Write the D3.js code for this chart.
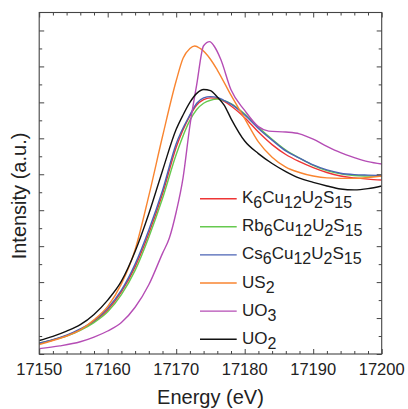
<!DOCTYPE html>
<html>
<head>
<meta charset="utf-8">
<script src="https://cdn.jsdelivr.net/npm/d3@7"></script>
<style>
  html, body { margin: 0; padding: 0; background: #fff; }
  svg { display: block; font-family: "Liberation Sans", Arial, sans-serif; }
</style>
</head>
<body>
<svg width="408" height="409"></svg>
<script>
// series: [energy (eV), normalized intensity]
var k6 = [[17150,0.058],[17152,0.078],[17154,0.102],[17156,0.136],[17158,0.18],[17160,0.245],
  [17162,0.345],[17164,0.485],[17166,0.67],[17168,0.89],[17170,1.15],[17172,1.325],[17173,1.385],
  [17174,1.415],[17175,1.425],[17176,1.422],[17177,1.405],[17178,1.38],[17180,1.315],[17182,1.235],
  [17184,1.165],[17186,1.11],[17188,1.07],[17190,1.037],[17192,1.01],[17194,0.99],[17196,0.98],
  [17198,0.973],[17200,0.968]];
var rb6 = [[17150,0.06],[17152,0.078],[17154,0.1],[17156,0.132],[17158,0.175],[17160,0.235],
  [17162,0.33],[17164,0.465],[17166,0.65],[17168,0.865],[17170,1.11],[17172,1.3],[17173,1.36],
  [17174,1.395],[17175,1.412],[17176,1.418],[17177,1.41],[17178,1.393],[17180,1.335],[17182,1.262],
  [17184,1.195],[17186,1.135],[17188,1.09],[17190,1.05],[17192,1.02],[17194,1.002],[17196,0.993],
  [17198,0.99],[17200,0.988]];
var cs6 = [[17150,0.061],[17152,0.08],[17154,0.105],[17156,0.14],[17158,0.185],[17160,0.255],
  [17162,0.355],[17164,0.5],[17166,0.69],[17168,0.91],[17170,1.17],[17172,1.33],[17173,1.395],
  [17174,1.425],[17175,1.432],[17176,1.428],[17177,1.41],[17178,1.39],[17180,1.33],[17182,1.255],
  [17184,1.19],[17186,1.13],[17188,1.09],[17190,1.052],[17192,1.024],[17194,1.006],[17196,0.998],
  [17198,0.995],[17200,0.993]];
var us2 = [[17150,0.052],[17152,0.075],[17154,0.1],[17156,0.134],[17158,0.19],[17160,0.265],
  [17162,0.39],[17164,0.58],[17166,0.88],[17168,1.21],[17170,1.52],[17171,1.645],[17172,1.7],
  [17172.7,1.714],[17173.5,1.7],[17175,1.64],[17176,1.58],[17178,1.44],[17180,1.31],[17182,1.18],
  [17184,1.095],[17186,1.04],[17188,1.01],[17190,0.99],[17192,0.98],[17196,0.977],[17200,0.99]];
var uo3 = [[17150,0.03],[17153,0.045],[17156,0.068],[17158,0.094],[17160,0.128],[17162,0.175],
  [17164,0.26],[17166,0.385],[17168,0.56],[17169,0.645],[17170,0.79],[17171,0.98],[17172,1.27],
  [17173,1.5],[17174,1.715],[17174.9,1.738],[17175.5,1.715],[17176.5,1.64],[17178,1.47],[17180,1.355],
  [17182,1.265],[17183.5,1.24],[17186,1.235],[17188,1.225],[17190,1.195],[17192,1.155],[17194,1.12],
  [17196,1.093],[17198,1.07],[17200,1.057]];
var uo2 = [[17150,0.075],[17152,0.098],[17154,0.127],[17156,0.163],[17158,0.22],[17160,0.3],
  [17162,0.405],[17164,0.57],[17166,0.78],[17168,1.02],[17170,1.25],[17171,1.33],[17172,1.4],
  [17173,1.45],[17174,1.472],[17175,1.465],[17176,1.43],[17177,1.385],[17178,1.31],[17180,1.185],
  [17182,1.115],[17184,1.06],[17186,1.015],[17188,0.978],[17190,0.955],[17192,0.935],[17194,0.918],
  [17196,0.913],[17198,0.92],[17200,0.935]];

// legend labels: [text, isSubscript]
var names = [
  [["K",0],["6",1],["Cu",0],["12",1],["U",0],["2",1],["S",0],["15",1]],
  [["Rb",0],["6",1],["Cu",0],["12",1],["U",0],["2",1],["S",0],["15",1]],
  [["Cs",0],["6",1],["Cu",0],["12",1],["U",0],["2",1],["S",0],["15",1]],
  [["US",0],["2",1]],
  [["UO",0],["3",1]],
  [["UO",0],["2",1]]
];
var colors = ["#ee3535", "#66c94f", "#4b63b5", "#f98530", "#b54db5", "#111111"];
var series = [k6, rb6, cs6, us2, uo3, uo2];
var xTicks = [17150, 17160, 17170, 17180, 17190, 17200];

var svg = d3.select("svg");
var pLeft = 39.2, pRight = 381.7, pTop = 12.5, pBottom = 354;

var x = d3.scaleLinear().domain([17150, 17200]).range([pLeft, pRight]);
var y = d3.scaleLinear().domain([0, 1.9]).range([pBottom, pTop]);

svg.append("clipPath").attr("id", "plot")
  .append("rect")
  .attr("x", pLeft).attr("y", pTop)
  .attr("width", pRight - pLeft).attr("height", pBottom - pTop);

var line = d3.line()
  .x(function (d) { return x(d[0]); })
  .y(function (d) { return y(d[1]); })
  .curve(d3.curveMonotoneX);

svg.append("g").attr("clip-path", "url(#plot)")
  .selectAll("path")
  .data(series)
  .enter().append("path")
  .attr("d", line)
  .attr("fill", "none")
  .attr("stroke", function (d, i) { return colors[i]; })
  .attr("stroke-width", 1.4);

// ticks pointing inward on all four sides
var minorX = d3.range(17150, 17201, 2);
var minorY = d3.range(0, 19).map(function (i) { return i * 0.1; });
function tickLen(isMajor) { return isMajor ? 5 : 3; }

var bottomAxis = d3.axisBottom(x).tickValues(minorX).tickSizeOuter(0).tickFormat("");
var topAxis = d3.axisTop(x).tickValues(minorX).tickSizeOuter(0).tickFormat("");
var leftAxis = d3.axisLeft(y).tickValues(minorY).tickSizeOuter(0).tickFormat("");
var rightAxis = d3.axisRight(y).tickValues(minorY).tickSizeOuter(0).tickFormat("");

function styleAxis(g, majorTest, horiz, sign) {
  g.select(".domain").remove();
  g.selectAll(".tick line")
    .attr("stroke", "#444")
    .attr(horiz ? "y2" : "x2", function (d) { return sign * tickLen(majorTest(d)); });
}
var isMajorX = function (d) { return d % 10 === 0; };
var isMajorY = function (d) { return Math.round(d * 10) % 2 === 0; };

svg.append("g").attr("transform", "translate(0," + pBottom + ")").call(bottomAxis)
  .call(styleAxis, isMajorX, true, -1);
svg.append("g").attr("transform", "translate(0," + pTop + ")").call(topAxis)
  .call(styleAxis, isMajorX, true, 1);
svg.append("g").attr("transform", "translate(" + pLeft + ",0)").call(leftAxis)
  .call(styleAxis, isMajorY, false, 1);
svg.append("g").attr("transform", "translate(" + pRight + ",0)").call(rightAxis)
  .call(styleAxis, isMajorY, false, -1);

svg.append("rect")
  .attr("x", pLeft).attr("y", pTop)
  .attr("width", pRight - pLeft).attr("height", pBottom - pTop)
  .attr("fill", "none").attr("stroke", "#444").attr("stroke-width", 1.1);

svg.append("g").selectAll("text")
  .data(xTicks)
  .enter().append("text")
  .attr("x", function (d) { return x(d); })
  .attr("y", 374.5)
  .attr("text-anchor", "middle")
  .attr("font-size", 16.5)
  .attr("fill", "#222")
  .text(function (d) { return d; });

svg.append("text")
  .attr("x", (pLeft + pRight) / 2)
  .attr("y", 404)
  .attr("text-anchor", "middle")
  .attr("font-size", 20)
  .attr("fill", "#222")
  .text("Energy (eV)");

svg.append("text")
  .attr("transform", "translate(25.5,196) rotate(-90)")
  .attr("text-anchor", "middle")
  .attr("font-size", 20)
  .attr("fill", "#222")
  .text("Intensity (a.u.)");

// legend
var legend = svg.append("g").selectAll("g")
  .data(names)
  .enter().append("g")
  .attr("transform", function (d, i) { return "translate(200," + (198.7 + i * 28.1) + ")"; });

legend.append("line")
  .attr("x1", 0).attr("x2", 36.7)
  .attr("stroke", function (d, i) { return colors[i]; })
  .attr("stroke-width", 1.4);

legend.append("text")
  .attr("x", 42)
  .attr("y", 4.5)
  .attr("font-size", 17)
  .attr("fill", "#222")
  .selectAll("tspan")
  .data(function (d) { return d; })
  .enter().append("tspan")
  .attr("font-size", function (p) { return p[1] ? 16 : 17; })
  .attr("dy", function (p, j, nodes) {
    var prev = j > 0 ? d3.select(nodes[j - 1]).datum()[1] : 0;
    return (p[1] - prev) * 5;
  })
  .text(function (p) { return p[0]; });
</script>
</body>
</html>
